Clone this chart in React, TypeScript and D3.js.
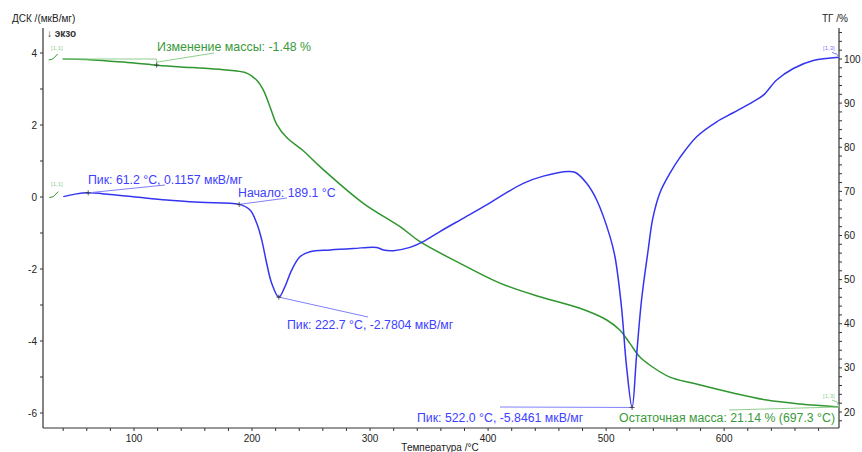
import React from "react";
import * as d3 from "d3";

const width = 862;
const height = 452;
const plot = { left: 43, right: 839, top: 28, bottom: 428 };

// TG curve (right axis, %)
const tgTemp = [39.6, 60, 80, 100, 119.2, 140, 160, 178.5, 195.5, 204, 209.5, 215.2, 220.9, 229.4, 243.4, 257.6, 294.3, 325.4, 342.3, 376.2, 410.1, 443.9, 477.8, 500.5, 511.5, 520, 528.4, 536.9, 554, 573.9, 607.5, 636.1, 664.6, 697.3];
const tgMass = [100.0, 99.9, 99.5, 99.1, 98.6, 98.2, 97.9, 97.5, 96.8, 95.2, 93.0, 89.2, 85.2, 82.2, 79.2, 75.6, 67.3, 62.0, 58.6, 53.7, 49.2, 46.1, 43.5, 40.85, 38.6, 35.6, 32.5, 30.65, 27.9, 26.5, 24.3, 22.7, 21.8, 21.14];

// DSC curve (left axis, мкВ/мг)
const dscTemp = [40.1, 50, 61.2, 80, 99.4, 127.7, 155.9, 189.1, 198.3, 204, 208.2, 212.4, 216.7, 222.7, 227.9, 233.6, 240.6, 249.1, 266.1, 285.8, 305.6, 311.2, 319.7, 333.8, 345.1, 359.2, 376.2, 398.8, 410.1, 429.8, 446.8, 468, 474, 483.5, 492, 503.3, 507.5, 513, 517.3, 522.0, 525.7, 530, 535.5, 539.5, 545.6, 554.1, 562.6, 576.7, 593.7, 607.7, 624.7, 633.2, 644.5, 658.6, 675.5, 697.3];
const dscValue = [0.01, 0.08, 0.1157, 0.07, 0.01, -0.083, -0.147, -0.205, -0.361, -0.73, -1.19, -1.84, -2.4, -2.7804, -2.49, -2.03, -1.66, -1.52, -1.47, -1.43, -1.4, -1.47, -1.49, -1.4, -1.24, -0.96, -0.64, -0.22, 0.01, 0.38, 0.58, 0.71, 0.68, 0.38, -0.083, -1.1, -1.66, -3.05, -4.71, -5.8461, -4.44, -2.86, -1.5, -0.6, 0.12, 0.66, 1.1, 1.675, 2.09, 2.34, 2.65, 2.83, 3.25, 3.57, 3.79, 3.88];

const xMajor = [100, 200, 300, 400, 500, 600];
const xMinor = d3.range(40, 700, 20).filter(t => t % 100 !== 0);
const dscMajor = [-6, -4, -2, 0, 2, 4];
const dscMinor = [-5, -3, -1, 1, 3];
const tgMajor = [20, 30, 40, 50, 60, 70, 80, 90, 100];
const tgMinor = d3.range(18, 107, 2).filter(v => v % 10 !== 0);

const blue = "#3535f0";
const blueText = "#4040ff";
const blueLight = "#8080ff";
const green = "#2f962f";
const greenText = "#3a9a3a";
const greenLight = "#8fcf8f";
const axisColor = "#333";
const font = "'Liberation Sans', Arial, sans-serif";

const x = d3.scaleLinear().domain([22.9, 697.3]).range([plot.left, plot.right]);
const yDsc = d3.scaleLinear().domain([-6, 4]).range([413, 53]);
const yTg = d3.scaleLinear().domain([20, 100]).range([412, 59]);

const tgLine = d3
  .line<number>()
  .x((d, i) => x(tgTemp[i]))
  .y(d => yTg(d))
  .curve(d3.curveCatmullRom.alpha(0.5));

const dscLine = d3
  .line<number>()
  .x((d, i) => x(dscTemp[i]))
  .y(d => yDsc(d))
  .curve(d3.curveCatmullRom.alpha(0.5));

const Cross = ({ cx, cy }) => (
  <g stroke="#333" strokeWidth={0.8}>
    <line x1={cx - 2.5} x2={cx + 2.5} y1={cy} y2={cy} />
    <line x1={cx} x2={cx} y1={cy - 2.5} y2={cy + 2.5} />
  </g>
);

const App = () => {
  const tgStart = [x(tgTemp[0]), yTg(tgMass[0])];
  const tgEnd = [x(tgTemp[tgTemp.length - 1]), yTg(tgMass[tgMass.length - 1])];
  const massMark = [x(119.2), yTg(98.6)];
  const pk1 = [x(61.2), yDsc(0.1157)];
  const onset = [x(189.1), yDsc(-0.205)];
  const pk2 = [x(222.7), yDsc(-2.7804)];
  const pk3 = [x(522.0), yDsc(-5.8461)];
  const dscStart = [x(dscTemp[0]), yDsc(dscValue[0])];
  const dscEnd = [x(dscTemp[dscTemp.length - 1]), yDsc(dscValue[dscValue.length - 1])];

  return (
    <svg width={width} height={height} style={{ position: "absolute", left: 0, top: 0 }} fontFamily={font}>
      <rect width={width} height={height} fill="#fff" />

      {/* axes */}
      <g stroke={axisColor} strokeWidth={1.2} fill="none">
        <line x1={plot.left} x2={plot.left} y1={plot.top} y2={plot.bottom} />
        <line x1={plot.right} x2={plot.right} y1={plot.top} y2={plot.bottom} />
        <line x1={plot.left} x2={plot.right} y1={plot.bottom} y2={plot.bottom} />
      </g>
      <g stroke={axisColor} strokeWidth={1}>
        {xMajor.concat(xMinor).map(t => (
          <line key={"x" + t} x1={x(t)} x2={x(t)} y1={plot.bottom} y2={plot.bottom + 3} />
        ))}
        {dscMajor.concat(dscMinor).map(v => (
          <line key={"l" + v} x1={plot.left - 3} x2={plot.left} y1={yDsc(v)} y2={yDsc(v)} />
        ))}
        {tgMajor.concat(tgMinor).map(v => (
          <line key={"r" + v} x1={plot.right} x2={plot.right + 3} y1={yTg(v)} y2={yTg(v)} />
        ))}
      </g>
      <g fontSize={10} fill="#222">
        {xMajor.map(t => (
          <text key={t} x={x(t)} y={442} textAnchor="middle">{t}</text>
        ))}
        {dscMajor.map(v => (
          <text key={v} x={37} y={yDsc(v) + 3.5} textAnchor="end">{v}</text>
        ))}
        {tgMajor.map(v => (
          <text key={v} x={844} y={yTg(v) + 3.5}>{v}</text>
        ))}
      </g>
      <text x={12} y={22} fontSize={10} fill="#222">ДСК /(мкВ/мг)</text>
      <text x={47} y={37} fontSize={10} fontWeight="bold" fill="#333">↓ экзо</text>
      <text x={822} y={22} fontSize={10} fill="#222">ТГ /%</text>
      <text x={440} y={451} fontSize={10} fill="#222" textAnchor="middle">Температура /°C</text>

      {/* curves */}
      <path d={tgLine(tgMass) || ""} fill="none" stroke={green} strokeWidth={1.5} />
      <path d={dscLine(dscValue) || ""} fill="none" stroke={blue} strokeWidth={1.5} />

      {/* segment labels */}
      <g fontSize={6} fill={greenLight}>
        <text x={51} y={50}>[1,1]</text>
        <text x={51} y={186}>[1,1]</text>
        <text x={823} y={398}>[1,3]</text>
      </g>
      <text x={823} y={50} fontSize={6} fill={blueLight}>[1,3]</text>
      <g fill="none" strokeWidth={1}>
        <path d={`M${tgStart[0] - 14},${tgStart[1] + 1}l4,-1l5,-5`} stroke={green} />
        <path d={`M${dscStart[0] - 14},${dscStart[1] + 1}l4,-1l5,-5`} stroke={green} />
        <path d={`M${tgEnd[0] - 7},${tgEnd[1] - 7}l5,2l2,5`} stroke={greenLight} />
        <path d={`M${dscEnd[0] - 7},${dscEnd[1] - 5}l5,2l2,3`} stroke={blueLight} />
      </g>

      {/* mass change */}
      <g stroke={greenLight} strokeWidth={1} fill="none">
        <line x1={tgStart[0]} x2={massMark[0]} y1={tgStart[1]} y2={tgStart[1]} />
        <line x1={massMark[0]} x2={massMark[0]} y1={tgStart[1]} y2={massMark[1]} />
        <line x1={massMark[0]} x2={214} y1={massMark[1] - 3} y2={53} />
        <line x1={729} x2={tgEnd[0]} y1={410} y2={tgEnd[1]} />
      </g>
      <Cross cx={massMark[0]} cy={massMark[1]} />
      <text x={157} y={51} fontSize={12.4} fill={greenText}>Изменение массы: -1.48 %</text>
      <text x={835} y={422} fontSize={12.3} fill={greenText} textAnchor="end">Остаточная масса: 21.14 % (697.3 °C)</text>

      {/* DSC annotations */}
      <g stroke={blueLight} strokeWidth={1} fill="none">
        <line x1={pk1[0]} y1={pk1[1]} x2={165} y2={185} />
        <line x1={onset[0]} y1={onset[1]} x2={287} y2={198} />
        <line x1={pk2[0]} y1={pk2[1]} x2={368} y2={317} />
        <line x1={500} y1={407} x2={pk3[0]} y2={pk3[1]} />
      </g>
      <Cross cx={pk1[0]} cy={pk1[1]} />
      <Cross cx={onset[0]} cy={onset[1]} />
      <Cross cx={pk2[0]} cy={pk2[1]} />
      <Cross cx={pk3[0]} cy={pk3[1]} />
      <g fontSize={12.3} fill={blueText}>
        <text x={88} y={184}>Пик: 61.2 °C, 0.1157 мкВ/мг</text>
        <text x={238} y={197}>Начало: 189.1 °C</text>
        <text x={287} y={329}>Пик: 222.7 °C, -2.7804 мкВ/мг</text>
        <text x={417} y={422}>Пик: 522.0 °C, -5.8461 мкВ/мг</text>
      </g>
    </svg>
  );
};

export default App;
